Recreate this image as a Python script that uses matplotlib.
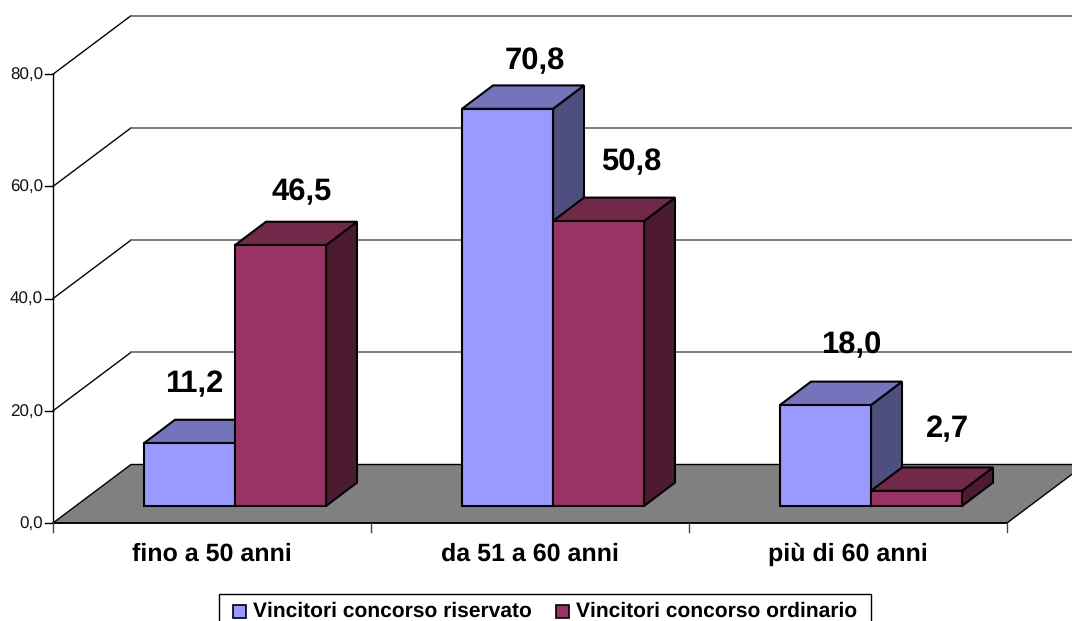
import matplotlib
matplotlib.use("Agg")
import matplotlib.pyplot as plt
from matplotlib.patches import Polygon, Rectangle

categories = ["fino a 50 anni", "da 51 a 60 anni", "più di 60 anni"]
series_names = ["Vincitori concorso riservato", "Vincitori concorso ordinario"]
riservato = [11.2, 70.8, 18.0]
ordinario = [46.5, 50.8, 2.7]
value_labels_r = ["11,2", "70,8", "18,0"]
value_labels_o = ["46,5", "50,8", "2,7"]
y_ticks = [0, 20, 40, 60, 80]
y_tick_labels = ["0,0", "20,0", "40,0", "60,0", "80,0"]

W, H = 1072, 621
CAT_PX = 318.0
UNIT_PX = 5.61
X0, Y0 = 53.0, 523.0
XW = 1 / CAT_PX      # data units per pixel
YU = 1 / UNIT_PX

plt.rcParams["font.family"] = ["Liberation Sans", "DejaVu Sans"]
plt.rcParams["text.hinting"] = "no_hinting"
plt.rcParams["text.hinting_factor"] = 1
fig = plt.figure(figsize=(W / 100, H / 100), dpi=100, facecolor="white")
ax = fig.add_axes([0, 0, 1, 1])
ax.set_xlim(-X0 * XW, (W - X0) * XW)
ax.set_ylim((Y0 - H) * YU, Y0 * YU)
ax.axis("off")

wall_dx, wall_dy = 78 * XW, 58.5 * YU
bar_in_dx, bar_in_dy = 22 * XW, 17 * YU
bar_dx, bar_dy = 31 * XW, 23.4 * YU
bar_w = 91 * XW

floor = Polygon([(0, 0), (wall_dx, wall_dy), (3 + wall_dx, wall_dy), (3, 0)],
                closed=True, fc="#808080", ec="black", lw=1.0, zorder=1)
ax.add_patch(floor)

# back wall grid lines
for v in y_ticks[1:]:
    ax.plot([0, wall_dx], [v, v + wall_dy], color="black", lw=1.0, zorder=0.5)
    ax.plot([wall_dx, (W - X0) * XW], [v + wall_dy, v + wall_dy], color="#666666", lw=1.2, zorder=0.5)

# axes
ax.plot([0, 0], [0, 80], color="black", lw=1.0, zorder=0.6)
ax.plot([0, 3], [0, 0], color="black", lw=1.2, zorder=2)
for v, t in zip(y_ticks, y_tick_labels):
    ax.plot([-8.5 * XW, 0], [v, v], color="black", lw=1.0, zorder=2)
    ax.text(-10 * XW, v - 5.7 * YU, t, ha="right", va="baseline", fontsize=12.3, color="#111111")
for i in range(4):
    ax.plot([i, i], [0, -9 * YU], color="#444444", lw=1.0, zorder=2)
for i, c in enumerate(categories):
    ax.text(i + 0.5, (Y0 - 561) * YU, c, ha="center", va="baseline", fontsize=17.7, fontweight="bold")


def bar3d(x, v, front, top, side, zorder):
    x0 = x + bar_in_dx
    y0 = bar_in_dy
    y1 = y0 + v
    kw = dict(closed=True, ec="black", lw=1.5, joinstyle="miter", zorder=zorder)
    ax.add_patch(Polygon([(x0 + bar_w, y0), (x0 + bar_w + bar_dx, y0 + bar_dy),
                          (x0 + bar_w + bar_dx, y1 + bar_dy), (x0 + bar_w, y1)], fc=side, **kw))
    ax.add_patch(Polygon([(x0, y1), (x0 + bar_dx, y1 + bar_dy),
                          (x0 + bar_w + bar_dx, y1 + bar_dy), (x0 + bar_w, y1)], fc=top, **kw))
    ax.add_patch(Polygon([(x0, y0), (x0 + bar_w, y0), (x0 + bar_w, y1), (x0, y1)], fc=front, **kw))


# label nudges in pixels (dx, dy up)
nudge_r = [(-20, 11), (3, 0), (1, 12)]
nudge_o = [(-3, 5), (8, 11), (6, 14)]
left_gap = 69 * XW
for i in range(3):
    x = i + left_gap
    bar3d(x, riservato[i], "#9999FF", "#7474BC", "#4E4E7F", 3 + i)
    bar3d(x + bar_w, ordinario[i], "#993366", "#722849", "#4C1B32", 3.5 + i)
    ax.text(x + bar_in_dx + (70 + nudge_r[i][0]) * XW, riservato[i] + (65 + nudge_r[i][1]) * YU, value_labels_r[i],
            ha="center", va="center", fontsize=22, fontweight="bold", zorder=10)
    ax.text(x + bar_w + bar_in_dx + (70 + nudge_o[i][0]) * XW, ordinario[i] + (65 + nudge_o[i][1]) * YU, value_labels_o[i],
            ha="center", va="center", fontsize=22, fontweight="bold", zorder=10)

# legend frame
lx0, lx1 = (219 - X0) * XW, (871 - X0) * XW
ly1 = (Y0 - 594) * YU
ly0 = (Y0 - 630) * YU
ax.add_patch(Rectangle((lx0, ly0), lx1 - lx0, ly1 - ly0, fc="white", ec="black", lw=1.0, zorder=8))
sw = 13 * XW
sh = 13 * YU
ly = (Y0 - 611) * YU
for px, tx, col, name in [(233, 253, "#9999FF", series_names[0]), (556, 576, "#993366", series_names[1])]:
    ax.add_patch(Rectangle(((px - X0) * XW, ly - sh / 2), sw, sh, fc=col, ec="black", lw=1.2, zorder=9))
    ax.text((tx - X0) * XW, (Y0 - 617) * YU, name, ha="left", va="baseline", fontsize=15.1, fontweight="bold", zorder=9)

fig.savefig("out.png", dpi=100, facecolor="white")
